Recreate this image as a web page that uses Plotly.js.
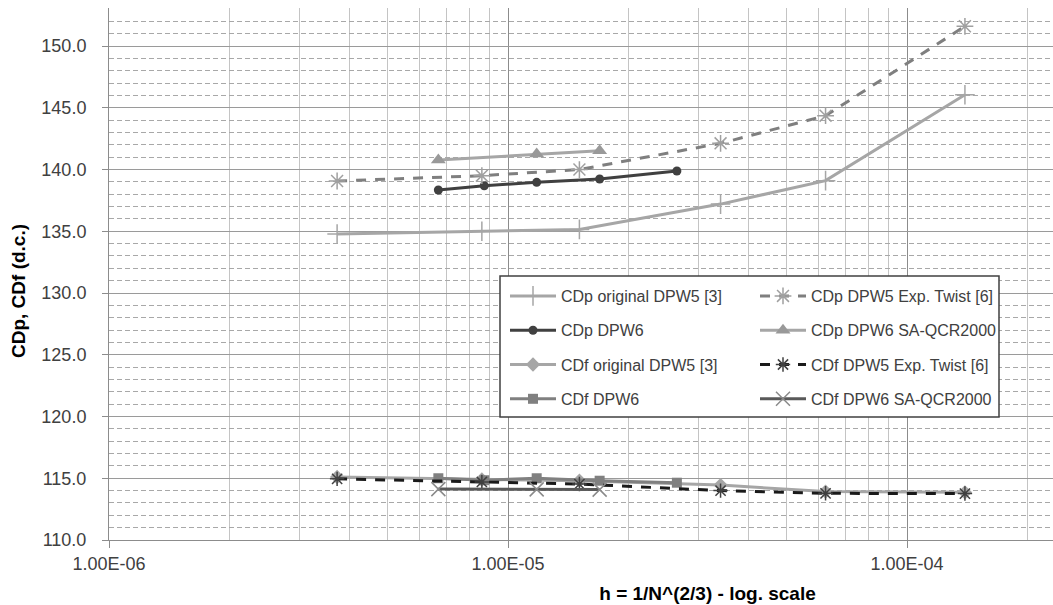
<!DOCTYPE html>
<html>
<head>
<meta charset="utf-8">
<script src="https://cdn.plot.ly/plotly-3.0.1.min.js"></script>
<style>
html, body { margin: 0; padding: 0; overflow: hidden; background: #fff; }
#chart { width: 1320px; height: 605px; }
</style>
</head>
<body>
<div id="chart"></div>
<script>
// ---- data ----
const hDPW5 = [3.73e-6, 8.6e-6, 1.51e-5, 3.41e-5, 6.25e-5, 1.397e-4];
const hDPW6 = [6.69e-6, 8.72e-6, 1.18e-5, 1.697e-5, 2.65e-5];
const hSA = [6.69e-6, 1.18e-5, 1.697e-5];

const cdpOriginalDPW5 = [134.78, 135.0, 135.15, 137.2, 139.1, 146.05];
const cdpExpTwist = [139.07, 139.5, 140.0, 142.12, 144.36, 151.6];
const cdpDPW6 = [138.34, 138.69, 138.96, 139.23, 139.88];
const cdpSA = [140.77, 141.26, 141.52];

const cdfOriginalDPW5 = [115.1, 114.9, 114.8, 114.45, 113.92, 113.86];
const cdfExpTwist = [114.95, 114.7, 114.53, 114.0, 113.78, 113.76];
const cdfDPW6 = [115.0, 114.84, 115.0, 114.8, 114.64];
const cdfSA = [114.12, 114.1, 114.08];

const xTickVals = [1e-6, 1e-5, 1e-4, 1e-3];
const xTickText = ["1.00E-06", "1.00E-05", "1.00E-04", "1.00E-03"];

const names = [
  "CDp original DPW5 [3]", "CDp DPW5 Exp. Twist [6]",
  "CDp DPW6", "CDp DPW6 SA-QCR2000",
  "CDf original DPW5 [3]", "CDf DPW5 Exp. Twist [6]",
  "CDf DPW6", "CDf DPW6 SA-QCR2000"
];

// minor x grid at 2..9 x each decade
const xMinor = [];
for (let d = -6; d < -3; d++) {
  for (let k = 2; k <= 9; k++) xMinor.push(k * Math.pow(10, d));
}

function tr(name, x, y, color, width, dash, symbol, msize, mcolor, legend, group) {
  return {
    type: 'scatter', mode: 'lines+markers', name: name, x: x, y: y,
    line: {color: color, width: width, dash: dash},
    marker: {symbol: symbol, size: msize, color: mcolor,
             line: {color: mcolor, width: (symbol.indexOf('open') >= 0 || symbol.indexOf('thin') >= 0) ? 1.5 : 0}},
    legend: legend, legendgroup: group, showlegend: true
  };
}

const data = [
  tr(names[0], hDPW5, cdpOriginalDPW5, '#a6a6a6', 3, 'solid', 'cross-thin-open', 14, '#a6a6a6', 'legend', 'g1'),
  tr(names[2], hDPW6, cdpDPW6, '#404040', 3, 'solid', 'circle', 9, '#404040', 'legend', 'g2'),
  tr(names[4], hDPW5, cdfOriginalDPW5, '#a6a6a6', 3, 'solid', 'diamond', 11, '#a6a6a6', 'legend', 'g3'),
  tr(names[6], hDPW6, cdfDPW6, '#808080', 3, 'solid', 'square', 10, '#808080', 'legend', 'g4'),
  tr(names[1], hDPW5, cdpExpTwist, '#7f7f7f', 3, '10px,9px', 'asterisk-open', 14, '#a0a0a0', 'legend2', 'g5'),
  tr(names[3], hSA, cdpSA, '#a6a6a6', 3, 'solid', 'triangle-up', 13, '#999999', 'legend2', 'g6'),
  tr(names[5], hDPW5, cdfExpTwist, '#1a1a1a', 3, '10px,9px', 'asterisk-open', 12, '#404040', 'legend2', 'g7'),
  tr(names[7], hSA, cdfSA, '#595959', 3, 'solid', 'x-thin-open', 14, '#8a8a8a', 'legend2', 'g8')
];

const FONT = '"Liberation Sans", Arial, sans-serif';

const legendCommon = {
  orientation: 'v', bgcolor: 'rgba(0,0,0,0)', borderwidth: 0,
  font: {family: FONT, size: 16, color: '#404040'},
  itemwidth: 46, tracegroupgap: 10.5, traceorder: 'grouped',
  xanchor: 'left', yanchor: 'top', itemclick: false, itemdoubleclick: false
};

const layout = {
  width: 1320, height: 605,
  margin: {l: 109, r: 14, t: 8, b: 65},
  paper_bgcolor: '#ffffff', plot_bgcolor: '#ffffff',
  font: {family: FONT, size: 18, color: '#404040'},
  xaxis: {
    type: 'log', range: [-6, -3],
    tickmode: 'array', tickvals: xTickVals, ticktext: xTickText,
    ticks: 'outside', ticklen: 7, tickcolor: '#8c8c8c', tickwidth: 1,
    showgrid: true, gridcolor: '#8c8c8c', gridwidth: 1,
    showline: true, linecolor: '#8c8c8c', linewidth: 1,
    zeroline: false,
    tickfont: {family: FONT, size: 18, color: '#404040'},
    minor: {tickmode: 'array', tickvals: xMinor, showgrid: true, gridcolor: '#c4c4c4', gridwidth: 1, ticks: ''},
    title: {text: 'h = 1/N^(2/3) - log. scale', font: {family: FONT, size: 19, color: '#000000', weight: 'bold'}, standoff: 14}
  },
  yaxis: {
    range: [110, 153.08], tick0: 110, dtick: 5, tickformat: '.1f',
    ticks: 'outside', ticklen: 6, tickcolor: '#8c8c8c', ticklabelstandoff: 12,
    showgrid: true, gridcolor: '#9a9a9a', gridwidth: 1,
    showline: true, linecolor: '#8c8c8c', linewidth: 1,
    zeroline: false,
    tickfont: {family: FONT, size: 18, color: '#404040'},
    minor: {dtick: 1, showgrid: true, gridcolor: '#a8a8a8', griddash: '5px,3px', gridwidth: 1, ticks: ''}
  },
  legend: Object.assign({}, legendCommon, {x: (505 - 109) / 1197, y: (540 - 279) / 532}),
  legend2: Object.assign({}, legendCommon, {x: (755 - 109) / 1197, y: (540 - 279) / 532}),
  shapes: [{
    type: 'rect', xref: 'paper', yref: 'paper', layer: 'above',
    x0: (500 - 109) / 1197, x1: (999 - 109) / 1197,
    y0: (540 - 417) / 532, y1: (540 - 276) / 532,
    line: {color: '#404040', width: 1.5}, fillcolor: '#ffffff'
  }],
  annotations: [{
    text: 'CDp, CDf (d.c.)', xref: 'paper', yref: 'paper',
    x: (18 - 109) / 1197, y: (540 - 291) / 532, xanchor: 'center', yanchor: 'middle',
    textangle: -90, showarrow: false,
    font: {family: FONT, size: 19, color: '#000000', weight: 'bold'}
  }],
  showlegend: true
};

Plotly.newPlot('chart', data, layout, {staticPlot: true, displayModeBar: false});
</script>
</body>
</html>
